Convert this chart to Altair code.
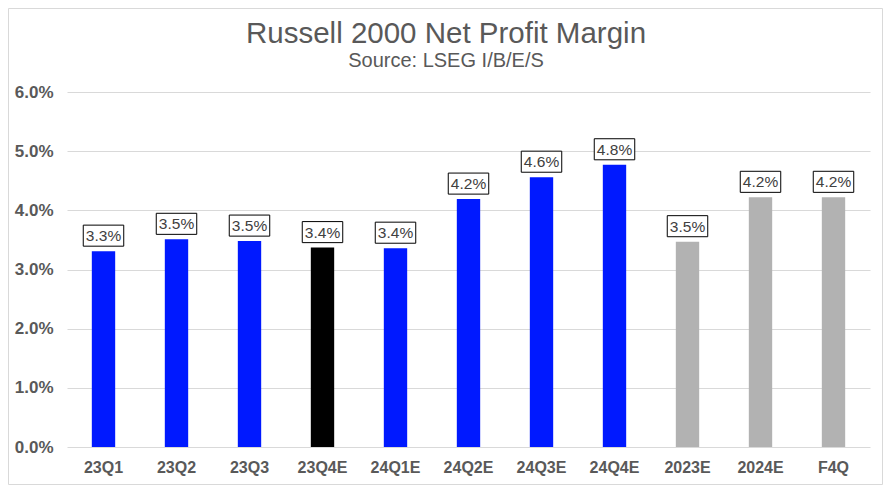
import altair as alt
import pandas as pd

categories = ["23Q1", "23Q2", "23Q3", "23Q4E", "24Q1E", "24Q2E", "24Q3E", "24Q4E", "2023E", "2024E", "F4Q"]
margins_pct = [3.31, 3.51, 3.48, 3.37, 3.36, 4.19, 4.56, 4.77, 3.47, 4.22, 4.22]
groups = ["actual", "actual", "actual", "current", "estimate", "estimate", "estimate", "estimate", "annual", "annual", "annual"]
group_names = ["actual", "current", "estimate", "annual"]
group_colors = ["#0019FF", "#000000", "#0019FF", "#B2B2B2"]

title_text = "Russell 2000 Net Profit Margin"
subtitle_text = "Source: LSEG I/B/E/S"

df = pd.DataFrame({
    "cat": categories,
    "margin": [v / 100 for v in margins_pct],
    "group": groups,
})
title_df = pd.DataFrame({"title": [title_text], "subtitle": [subtitle_text]})

FONT = "Liberation Sans"

x = alt.X("cat:N", sort=categories, title=None,
          scale=alt.Scale(paddingInner=0.68, paddingOuter=0.34),
          axis=alt.Axis(labelAngle=0, labelFont=FONT, labelFontSize=16, labelFontWeight="bold",
                        labelColor="#595959", labelPadding=12, domain=False, ticks=False, grid=False))
y = alt.Y("margin:Q", title=None,
          scale=alt.Scale(domain=[0, 0.06], nice=False),
          axis=alt.Axis(values=[0, 0.01, 0.02, 0.03, 0.04, 0.05, 0.06], format=".1%",
                        labelFont=FONT, labelFontSize=17, labelFontWeight="bold",
                        labelColor="#595959", labelPadding=14, domain=False, ticks=False,
                        grid=True, gridColor="#D9D9D9", gridWidth=1))

base = alt.Chart(df)

bars = base.mark_bar().encode(
    x=x, y=y,
    color=alt.Color("group:N", scale=alt.Scale(domain=group_names, range=group_colors), legend=None),
)

boxes = base.mark_point(
    shape="M-1,-0.52H1V0.52H-1Z", size=1640, filled=True, fill="white",
    stroke="black", strokeWidth=1, opacity=1, yOffset=-15.5,
).encode(x=x, y=y)

labels = base.mark_text(
    font=FONT, fontSize=15.5, color="#404040", yOffset=-15, baseline="middle", align="center",
).encode(x=x, y=y, text=alt.Text("margin:Q", format=".1%"))

border = alt.Chart(title_df).mark_rect(
    fill=None, stroke="#D9D9D9", strokeWidth=1, clip=False,
).encode(x=alt.value(-58.5), x2=alt.value(815.5), y=alt.value(-83.5), y2=alt.value(392.5))

title_mark = alt.Chart(title_df).mark_text(
    font=FONT, fontSize=29.5, color="#595959", align="center", baseline="alphabetic",
).encode(x=alt.value(379), y=alt.value(-49), text="title:N")

subtitle_mark = alt.Chart(title_df).mark_text(
    font=FONT, fontSize=20, color="#595959", align="center", baseline="alphabetic",
).encode(x=alt.value(379), y=alt.value(-25), text="subtitle:N")

chart = alt.layer(border, bars, boxes, labels, title_mark, subtitle_mark).properties(
    width=803, height=355,
    padding={"left": 59, "top": 84, "right": 13, "bottom": 38},
    autosize=alt.AutoSizeParams(type="none"),
).configure_view(stroke=None)

chart.save("out.html", embed_options={"renderer": "svg", "actions": False})
